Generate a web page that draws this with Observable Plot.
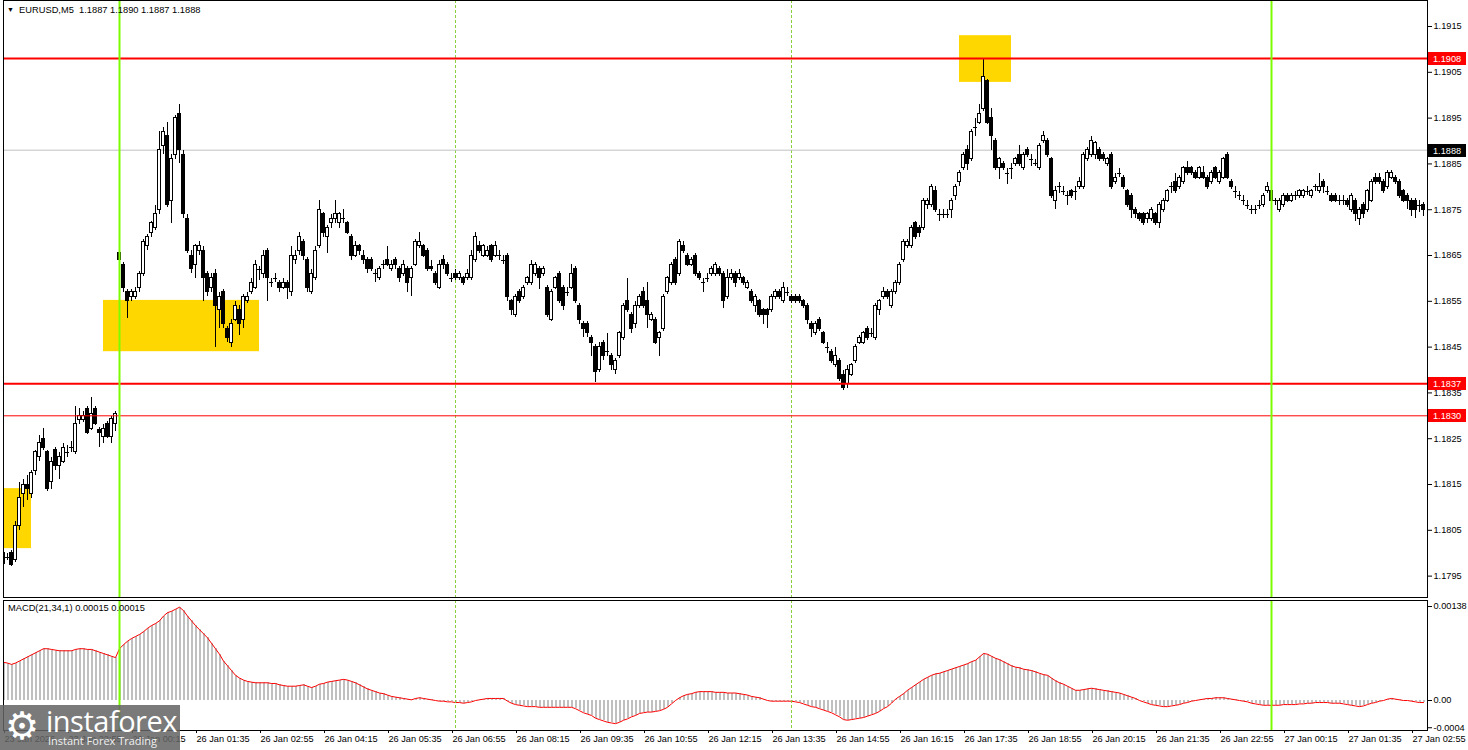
<!DOCTYPE html>
<html><head><meta charset="utf-8">
<script src="https://cdn.jsdelivr.net/npm/d3@7"></script>
<script src="https://cdn.jsdelivr.net/npm/@observablehq/plot@0.6"></script>
<style>
body{margin:0;background:#fff;font-family:'Liberation Sans',Arial,sans-serif;}
#wrap{position:relative;width:1468px;height:750px;overflow:hidden;background:#fff}
.abs{position:absolute;white-space:nowrap}
</style></head><body>
<div id="wrap">
<div id="main" class="abs" style="left:0;top:0"></div>
<div id="macd" class="abs" style="left:0;top:598px"></div>
<div class="abs" style="left:7px;top:4px;font-size:9.3px;line-height:12px;color:#000"><span style="font-size:7px;vertical-align:1px">▼</span>&nbsp; <span id="hdr"></span></div>
<div class="abs" id="macdTitle" style="left:8px;top:602px;font-size:9.3px;line-height:12px;color:#000"></div>
<div class="abs" style="left:0;top:705px;width:180px;height:45px;background:rgba(100,100,100,0.86)"></div>
<div class="abs" style="left:5px;top:704px;font-size:38px;line-height:44px;color:#fff;font-family:'DejaVu Sans'">⚙</div>
<div class="abs" style="left:46px;top:701px;font-family:'Open Sans';font-weight:400;font-size:29px;color:#fff;letter-spacing:-0.5px">instaforex</div>
<div class="abs" style="left:48px;top:733px;font-family:'Open Sans';font-size:11px;color:#f0f0f0">Instant Forex Trading</div>
</div>
<script>
// ---- Data (prices ×10^4) ----
const openP = [
11797.7,11799,11800,11798.5,11806,11813,11815,11813,11818,11821,
11825,11822,11815.5,11822.5,11819,11820,11822,11823,11822,11829,
11829,11831.4,11827.2,11831.4,11827,11825.3,11828.3,11825.3,11828.3,11865.5,
11863,11857,11856,11856,11858,11861,11867,11870,11871,11875,
11889,11891,11877,11887,11896,11887,11873,11865,11863,11866,
11866,11861,11858,11861,11853,11857,11849,11846,11851,11853,
11851,11855,11857,11858,11862,11861,11866,11859,11860,11859,
11858,11859,11857,11864,11866,11868,11864,11857,11860,11867,
11874,11869,11872,11873,11872,11873,11872,11869,11865,11867,
11865,11864,11864,11861,11860,11863,11864,11862,11864,11862,
11861,11862,11860,11863,11867,11867,11866,11862.5,11861,11858,
11864,11863,11860,11861,11860,11860,11860,11860,11864,11867,
11865,11865,11867,11865,11865,11864,11865,11855,11852,11857,
11856,11859,11859,11861,11862,11861,11858,11851,11858,11861,
11858,11857,11858,11862,11854,11850,11850,11847,11845,11840,
11846,11844,11843,11840,11843,11847,11855,11852,11850,11854,
11857,11855,11851,11851,11847,11849,11857,11859,11864,11861,
11867,11865,11863,11865,11861,11859,11860,11861,11861,11862,
11861,11856,11860,11861,11860,11860,11858,11857,11854,11855,
11853,11853,11853,11856,11857,11855,11857,11856,11856,11856,
11855,11854,11850,11848,11851,11848,11845,11844,11841,11842,
11839,11837,11839,11842,11846,11846,11849,11848,11847,11853,
11856,11857,11854,11857,11859,11864,11867,11867,11872,11871,
11871,11876,11876,11879,11874,11874,11874,11875,11878,11881,
11884,11888,11886,11893,11894,11897,11903,11895,11890,11884,
11885,11883,11884,11885,11887,11884,11888,11886,11885,11884,
11890,11890,11886,11877,11880,11879,11878,11879,11879,11880,
11880,11886,11887,11887,11888,11887,11885,11887,11881,11883,
11882,11879,11878,11875,11874,11874,11873,11873,11874,11872,
11875,11877,11880,11881,11880,11881,11884,11884,11883,11882,
11883,11882,11881,11884,11881,11882,11887,11881,11879,11878,
11877,11876,11875,11875,11876,11876,11879,11879,11877,11875,
11876,11878,11877,11878,11878,11878,11879,11878,11880,11879,
11881,11879,11878,11878,11877,11877,11877,11875,11877,11873,
11876,11875,11877,11882,11882,11881,11880,11882,11882,11881,
11879,11878,11877,11877,11876,11876];
const closeP = [
11800,11799,11797.5,11806,11812,11815,11814,11817.5,11822,11824,
11823,11814,11820,11819,11821,11823,11822,11823,11828.3,11830,
11830,11826.3,11830.3,11828.3,11826.3,11827.2,11825.3,11829.2,11830.3,11864,
11858,11855,11857,11857,11861,11868,11869,11872,11874,11888,
11892,11876,11886,11895,11888,11874,11866,11862,11867,11867,
11860,11857,11860,11854,11856,11850,11847,11850,11854,11850,
11856,11856,11859,11863,11862,11865,11860,11859,11860,11858,
11859,11858,11865,11865,11869,11865,11858,11861,11866,11875,
11870,11871,11873,11874,11874,11873,11870,11865,11867,11866,
11864,11862,11862,11861,11862,11863,11863,11863,11863,11860,
11863,11859,11862,11868,11868,11865,11862,11862,11859,11863,
11863,11861,11860,11860,11861,11859,11861,11865,11869,11866,
11867,11866,11864,11867,11865,11864,11856,11853,11856,11855,
11858,11860,11863,11863,11860,11862,11852,11857,11860,11855,
11854,11857,11861,11855,11851,11849,11848,11846,11839.5,11845,
11843,11844,11841,11842,11848,11854,11853,11849,11854,11856,
11854,11852,11852,11846,11848,11856,11860,11863,11859,11868,
11866,11863,11864,11861,11860,11859,11860,11862,11863,11861,
11855,11860,11861,11859,11861,11859,11859,11855,11856,11852,
11852,11852,11856,11857,11856,11858,11857,11855,11855,11855,
11854,11851,11849,11850,11849,11846,11845,11842,11843,11838,
11836,11840,11841,11845,11847,11848,11847,11848,11854,11855,
11857,11856,11857,11859,11863,11868,11868,11871,11869,11870,
11877,11877,11880,11875,11874,11874,11874,11877,11880,11883,
11887,11885,11892,11893,11896,11904,11894,11891,11884,11886,
11884,11883,11884,11886,11885,11887,11887,11886,11885,11889,
11891,11887,11878,11879,11880,11879,11878,11878,11879,11881,
11887,11888,11890,11889.5,11886,11886,11886,11880,11882,11883,
11880,11876,11875,11874,11873,11872,11874,11875,11872,11876,
11877,11879,11880,11879,11882,11884,11883,11883,11882,11884,
11882,11880,11883,11882,11883,11886,11882,11880,11879,11878,
11877,11876,11875,11875,11876,11878,11880,11877,11877,11877,
11878,11877,11878,11878,11879,11879,11879,11879,11880,11880,
11880,11879,11877,11877,11877,11877,11876,11878,11874,11875,
11874,11879,11881,11881,11881,11879,11883,11883,11881,11878,
11877,11877,11875,11875,11876,11875];
const highP = [
11800.5,11800,11800.5,11807,11815.5,11816,11817,11818,11822.5,11825.7,
11827.2,11822.5,11821,11823,11822,11824,11823.5,11824.5,11832,11831.5,
11831,11832,11834,11832,11827.5,11828,11828.8,11829.8,11831,11866.5,
11863.5,11857.5,11857.5,11858,11861.5,11868.5,11869.5,11872.5,11876,11892,
11893,11894,11887,11895.5,11898,11888,11874,11866,11867.5,11868,
11867,11861.5,11861,11862,11857,11857.5,11849.5,11851,11855,11854,
11856.5,11857,11860,11864,11862.5,11866,11866.5,11860,11861,11859.5,
11860,11859.5,11867,11866,11870,11868.5,11864.5,11862,11867,11877,
11874.5,11871.5,11874,11877,11874.5,11875,11872.5,11869.5,11868,11867.5,
11866,11864.5,11864.5,11862,11862.5,11864,11867,11864,11864.5,11862.5,
11864,11862.5,11862.5,11868.5,11870,11867.5,11866.5,11864,11861.5,11864,
11865,11863.5,11861,11862,11861.5,11860.5,11862,11866,11870,11868,
11867.5,11867,11867.5,11868,11866,11865,11865.5,11855.5,11856.5,11857.5,
11858.5,11860.5,11864,11863.5,11862.5,11862.5,11858.5,11857.5,11860.5,11861.5,
11858.5,11858,11863,11862.5,11854.5,11850.5,11850.5,11847.5,11845.5,11846,
11846.5,11848,11843.5,11842.5,11848.5,11854.5,11860,11852.5,11855,11856.5,
11858,11859,11852.5,11851.5,11848.5,11856.5,11860.5,11863.5,11864.5,11868.5,
11868,11865.5,11864.5,11865.5,11861.5,11860,11861,11862.5,11863.5,11862.5,
11861.5,11862,11862,11861.5,11862,11860.5,11859.5,11857.5,11856.5,11855.5,
11853.5,11853.5,11856.5,11857.5,11857.5,11859,11858,11856.5,11856.5,11856.5,
11855.5,11854.5,11850.5,11850.5,11851.5,11848.5,11846,11844.5,11845,11842.5,
11840,11841,11841.5,11845.5,11847.5,11848.5,11849.5,11849,11854.5,11855.5,
11858,11857.5,11857.5,11859.5,11863.5,11868.5,11868.5,11871.5,11872.5,11871.5,
11877.5,11877.5,11880.5,11880,11875,11875,11875,11877.5,11880.5,11883.5,
11887.5,11889,11892.5,11895,11898,11908,11903.5,11897,11890.5,11886.5,
11885.5,11884,11885,11886.5,11889,11887.5,11888.5,11887,11886,11889.5,
11892,11890.5,11886.5,11880,11881,11880,11879,11879.5,11880,11882,
11887.5,11888.5,11891,11890,11888.5,11887.5,11886.5,11887.5,11883,11884,
11882.5,11879.5,11878.5,11875.5,11874.5,11874.5,11874.5,11875.5,11874.5,11876.5,
11877.5,11879.5,11881,11883,11882.5,11884.5,11885.5,11884.5,11883.5,11884.5,
11884.5,11882.5,11883.5,11884.5,11883.5,11886.5,11887.5,11881.5,11880,11879,
11878,11877,11876,11876,11877,11878.5,11881,11879.5,11877.5,11877.5,
11878.5,11878.5,11878.5,11879,11879.5,11879.5,11880,11879.5,11880.5,11883,
11881.5,11880,11878.5,11878.5,11878,11878,11877.5,11878.5,11877.5,11875.5,
11876.5,11879.5,11881.5,11883,11883,11881.5,11883.5,11883.5,11882.5,11881.5,
11879.5,11878.5,11877.5,11877.5,11877,11876.5];
const lowP = [
11797,11798.5,11797,11798,11805,11810,11811.5,11812,11817,11820,
11822.5,11813.5,11814,11818,11816,11819.5,11821,11822,11821.5,11828,
11828.5,11826,11826.8,11827.8,11823,11824,11825,11824,11826.5,11863,
11857,11851.3,11855,11855.5,11857,11860.5,11866,11869,11870.5,11874,
11887,11875.5,11872,11886,11885,11873,11865.5,11861,11860,11865,
11855,11856,11857,11845,11849,11849,11846,11845,11850.5,11847.5,
11849,11854.5,11856.5,11857.5,11859.5,11860,11855,11858,11859,11857,
11857.5,11855.5,11856,11863,11865,11864,11857,11856.5,11859.5,11866.5,
11869,11865.5,11871,11872,11871,11872,11869.5,11864,11864.5,11865,
11863,11861,11861.5,11859,11859.5,11862,11862.5,11861.5,11862,11859,
11860.5,11857,11856,11862.5,11866.5,11864.5,11861.5,11861.5,11858.5,11857.5,
11862,11860.5,11859,11859.5,11859.5,11858.5,11859.5,11859.5,11863.5,11865.5,
11864.5,11864.5,11863.5,11864.5,11864,11863,11855,11852,11851.5,11854.5,
11855.5,11858.5,11858.5,11860.5,11857.5,11860.5,11851.5,11850.5,11857.5,11854.5,
11853,11856,11857.5,11854.5,11850,11847,11847,11843,11837.3,11839.5,
11842,11843,11840,11839,11842.5,11846.5,11852.5,11848,11849,11853.5,
11853.5,11849,11850.5,11845.5,11843,11848.5,11856.5,11858.5,11858.5,11860.5,
11865.5,11862.5,11862.5,11860.5,11859.5,11857,11859,11860.5,11860.5,11860.5,
11853.5,11855.5,11859.5,11858,11859.5,11858.5,11857.5,11854.5,11852.5,11851.5,
11850,11849,11852.5,11855.5,11855.5,11854.5,11856,11854.5,11854.5,11854.5,
11853.5,11850,11847,11847.5,11848.5,11845.5,11843.5,11841.5,11840.5,11837.5,
11835.5,11836,11838.5,11841.5,11845.5,11845.5,11846.5,11847,11846.5,11852,
11855.5,11855.5,11853.5,11856.5,11858.5,11863.5,11866.5,11866.5,11868.5,11869,
11870.5,11875,11875.5,11874.5,11872.5,11873,11873,11873,11877,11880,
11883.5,11883.5,11885.5,11891,11893.5,11896.5,11893.5,11888,11883.5,11881.5,
11883.5,11880.5,11881.5,11884.5,11884.5,11883.5,11886.5,11884.5,11884.5,11883.5,
11889.5,11886.5,11877.5,11875,11878.5,11878,11876,11877.5,11877,11879.5,
11879.5,11885.5,11886.5,11886,11885.5,11885.5,11884.5,11879.5,11880.5,11882,
11879.5,11875.5,11873,11873,11872.5,11871.5,11872,11872.5,11871.5,11871,
11874.5,11876.5,11878.5,11878.5,11879.5,11880.5,11882.5,11882.5,11881.5,11881.5,
11881.5,11879.5,11880.5,11881.5,11880.5,11881.5,11881.5,11879.5,11877.5,11877,
11876,11875,11874,11874,11875,11875.5,11878.5,11876,11876,11874.5,
11875.5,11876.5,11876.5,11877,11877.5,11877.5,11878,11877.5,11879,11878.5,
11878.5,11878,11876.5,11876.5,11876,11876,11875.5,11874.5,11872.5,11871.5,
11873,11874.5,11876.5,11880.5,11880.5,11878.5,11879.5,11881.5,11880.5,11877.5,
11876.5,11875,11873.5,11873,11874.5,11873.5];
// MACD(21,34,1) values ×10^5, one per candle
const macdE5 = [
56,55,53,55,58,61,64,67,70,73,
76,76,75,74,73,73,73,73,75,76,
76,75,75,73,71,69,67,65,63,76,
82,87,91,94,97,101,106,110,113,117,
124,129,131,134,137,132,124,117,110,104,
98,92,84,76,68,58,51,44,37,33,
30,28,27,26,26,26,26,25,25,23,
22,21,21,21,22,23,21,19,21,24,
25,27,28,29,30,31,30,28,26,23,
20,17,15,13,11,10,8,6,5,4,
3,2,1,3,4,3,2,1,0,-1,
-1,-2,-2,-3,-3,-4,-3,-2,0,1,
2,3,3,3,3,3,-1,-4,-6,-7,
-8,-9,-9,-9,-10,-10,-10,-10,-10,-10,
-10,-10,-10,-12,-15,-18,-20,-22,-26,-28,
-30,-32,-33,-34,-32,-29,-27,-24,-22,-19,
-18,-17,-17,-16,-15,-13,-10,-5,0,4,
7,9,10,12,13,13,13,13,12,12,
12,11,11,11,10,9,8,6,5,4,
2,0,-1,-1,-1,-1,-1,-1,-2,-3,
-5,-7,-9,-10,-12,-14,-16,-18,-21,-24,
-28,-29,-28,-27,-26,-25,-23,-21,-19,-16,
-12,-9,-4,2,6,10,15,19,23,27,
31,34,37,39,40,42,44,46,48,50,
52,54,57,59,64,69,68,65,62,60,
57,54,51,49,48,46,45,44,42,40,
38,37,33,29,26,24,21,18,15,15,
16,17,18,17,16,15,14,13,12,11,
9,7,5,3,0,-2,-4,-6,-7,-8,
-9,-9,-8,-7,-6,-4,-3,-1,0,1,
2,3,3,4,4,4,3,2,1,0,
-1,-2,-4,-5,-6,-7,-7,-7,-7,-7,
-6,-6,-6,-6,-5,-5,-4,-4,-3,-3,
-3,-3,-4,-4,-4,-5,-6,-7,-8,-9,
-8,-6,-4,-3,-1,0,2,3,2,1,
0,0,-1,-2,-3,-3];
const xTickIdx = [0,16,32,48,64,80,96,112,128,144,160,176,192,208,224,240,256,272,288,304,320,336,352];
const xTickLabels = ["23 Jan 2026","23 Jan 22:55","26 Jan 00:15","26 Jan 01:35","26 Jan 02:55","26 Jan 04:15","26 Jan 05:35","26 Jan 06:55","26 Jan 08:15","26 Jan 09:35","26 Jan 10:55","26 Jan 12:15","26 Jan 13:35","26 Jan 14:55","26 Jan 16:15","26 Jan 17:35","26 Jan 18:55","26 Jan 20:15","26 Jan 21:35","26 Jan 22:55","27 Jan 00:15","27 Jan 01:35","27 Jan 02:55"];
const yTicks = [1.1795,1.1805,1.1815,1.1825,1.1835,1.1845,1.1855,1.1865,1.1875,1.1885,1.1895,1.1905,1.1915];
const macdTicks = [0.00138, 0, -0.0004];
const macdTickLabels = ["0.00138","0.00","-0.0004"];
const majorLevels = [1.1908, 1.1837];
const minorLevels = [1.1830];
const bidLevel = [1.1888];
const dayStartIdx = [29, 317];
const sessionIdx = [113, 197];
const boxStartIdx = [0, 25, 239];
const boxEndIdx = [7, 64, 252];
const boxHigh = [1.18141, 1.18552, 1.19130];
const boxLow = [1.18010, 1.18440, 1.19028];
const headerText = "EURUSD,M5  1.1887 1.1890 1.1887 1.1888";
const macdTitleText = "MACD(21,34,1) 0.00015 0.00015";

// ---- Build tables ----
const candles = openP.map((o, i) => ({i, o: o/1e4, c: closeP[i]/1e4, h: highP[i]/1e4, l: lowP[i]/1e4}));
const bodies = candles.filter(d => d.o !== d.c);
const dojis = candles.filter(d => d.o === d.c);
const boxes = boxStartIdx.map((s, k) => ({i1: s, i2: boxEndIdx[k], hi: boxHigh[k], lo: boxLow[k]}));
const macdData = macdE5.map((v, i) => ({i, v: v/1e5}));

document.getElementById("hdr").textContent = headerText.replace(/ /g, "\u00a0");
document.getElementById("macdTitle").textContent = macdTitleText;

const font = "'Liberation Sans', Arial, sans-serif";
const W = 1468, ML = 3, MR = 41;
const half = 0.4;
const axisFont = 9.2;

const main = Plot.plot({
  width: W, height: 598, marginLeft: ML, marginRight: MR, marginTop: 0, marginBottom: 1,
  style: {fontFamily: font, fontSize: axisFont + "px", background: "transparent", overflow: "visible", color: "#000"},
  x: {domain: [0, 356], axis: null},
  y: {domain: [1.179033, 1.192068], axis: null},
  marks: [
    Plot.rect(boxes, {x1: "i1", x2: "i2", y1: "lo", y2: "hi", fill: "#FFD700"}),
    Plot.ruleX(sessionIdx, {x: d => d, stroke: "#8ccf3e", strokeDasharray: "3,2"}),
    Plot.ruleY(bidLevel, {y: d => d, stroke: "#c0c0c0"}),
    Plot.ruleX(candles, {x: "i", y1: "l", y2: "h", stroke: "#000", shapeRendering: "crispEdges", clip: true}),
    Plot.rect(bodies, {x1: d => d.i - half, x2: d => d.i + half, y1: "o", y2: "c", fill: d => d.c > d.o ? "#fff" : "#000", stroke: "#000", shapeRendering: "crispEdges", clip: true}),
    Plot.ruleY(dojis, {y: "o", x1: d => d.i - half, x2: d => d.i + half, stroke: "#000", shapeRendering: "crispEdges", clip: true}),
    Plot.ruleY(majorLevels, {y: d => d, stroke: "#ff0000", strokeWidth: 2}),
    Plot.ruleY(minorLevels, {y: d => d, stroke: "#ff0000", strokeWidth: 1}),
    Plot.ruleX(dayStartIdx, {x: d => d, stroke: "#7CFC00", strokeWidth: 2}),
    Plot.frame({stroke: "#000"}),
    Plot.axisY({anchor: "right", ticks: yTicks, tickFormat: d => d.toFixed(4), tickSize: 4, tickPadding: 2, label: null, fontSize: axisFont})
  ]
});
document.getElementById("main").appendChild(main);

// price tags on the right axis, placed with the plot's own y scale
const ySc = main.scale("y");
const tagG = d3.select(main).append("g").attr("text-anchor", "start");
const tags = [...majorLevels, ...minorLevels].map(v => ({v, bg: "#ff0000"})).concat(bidLevel.map(v => ({v, bg: "#000"})));
tags.forEach(t => {
  const y = ySc.apply(t.v);
  tagG.append("rect").attr("x", W - MR + 1).attr("y", Math.round(y) - 6).attr("width", 38).attr("height", 13).attr("fill", t.bg);
  tagG.append("text").attr("x", W - MR + 6).attr("y", Math.round(y) + 0.5).attr("dy", "0.35em")
    .attr("text-anchor", "start").attr("fill", "#fff").attr("font-size", axisFont).attr("font-family", font).text(t.v.toFixed(4));
});

const macd = Plot.plot({
  width: W, height: 152, marginLeft: ML, marginRight: MR, marginTop: 2, marginBottom: 20,
  style: {fontFamily: font, fontSize: axisFont + "px", background: "transparent", overflow: "visible", color: "#000"},
  x: {domain: [0, 356], axis: null},
  y: {domain: [-0.0004405, 0.0014684], axis: null},
  marks: [
    Plot.ruleX(macdData, {x: "i", y1: 0, y2: "v", stroke: "#c0c0c0", strokeWidth: 2, shapeRendering: "crispEdges", clip: true}),
    Plot.line(macdData, {x: "i", y: "v", stroke: "#ff0000", strokeWidth: 1, clip: true}),
    Plot.ruleX(sessionIdx, {x: d => d, stroke: "#8ccf3e", strokeDasharray: "3,2"}),
    Plot.ruleX(dayStartIdx, {x: d => d, stroke: "#7CFC00", strokeWidth: 2}),
    Plot.frame({stroke: "#000"}),
    Plot.axisY({anchor: "right", ticks: macdTicks, tickFormat: d => macdTickLabels[macdTicks.indexOf(d)], tickSize: 4, tickPadding: 2, label: null, fontSize: axisFont}),
    Plot.axisX({anchor: "bottom", ticks: xTickIdx, tickFormat: d => xTickLabels[xTickIdx.indexOf(d)], tickSize: 3, tickPadding: 2, textAnchor: "start", dx: 1, label: null, fontSize: axisFont})
  ]
});
document.getElementById("macd").appendChild(macd);
</script>
</body></html>
